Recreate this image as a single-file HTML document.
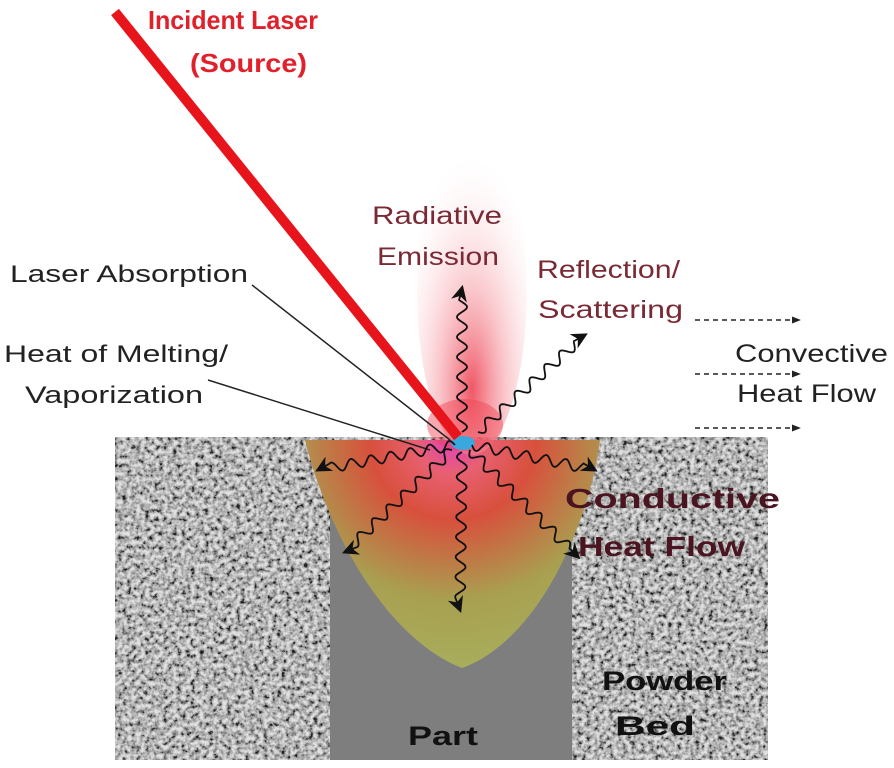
<!DOCTYPE html>
<html><head><meta charset="utf-8"><style>
body{margin:0;background:#fff;width:894px;height:768px;overflow:hidden}
svg{display:block}
text{font-family:"Liberation Sans","DejaVu Sans",sans-serif}
</style></head><body>
<svg id="s" width="894" height="768" viewBox="0 0 894 768">
<defs>
<filter id="n2" filterUnits="userSpaceOnUse" x="115" y="437" width="653" height="323">
<feTurbulence type="fractalNoise" baseFrequency="0.22" numOctaves="3" seed="5" result="t"/>
<feColorMatrix in="t" type="matrix" values="2.2 0 0 0 -0.55  2.2 0 0 0 -0.55  2.2 0 0 0 -0.55  0 0 0 0 1"/></filter>
<radialGradient id="plume" cx="0.5" cy="0.8" r="0.7">
<stop offset="0" stop-color="#ee4455" stop-opacity="0.9"/>
<stop offset="0.45" stop-color="#f6a0a8" stop-opacity="0.55"/>
<stop offset="1" stop-color="#fde5e8" stop-opacity="0"/>
</radialGradient>
<radialGradient id="pool" cx="0.5" cy="0" r="1" gradientTransform="translate(0.1 0) scale(0.8 1)">
<stop offset="0" stop-color="#e040c0"/>
<stop offset="0.15" stop-color="#e86070"/>
<stop offset="0.35" stop-color="#d8503c"/>
<stop offset="0.7" stop-color="#a8a050"/>
<stop offset="1" stop-color="#a8ae5c"/>
</radialGradient>
<marker id="ah" viewBox="0 0 10 10" refX="8" refY="5" markerWidth="9" markerHeight="9" orient="auto"><path d="M0,0 L10,5 L0,10 L3,5z" fill="#111"/></marker>
<marker id="ad" viewBox="0 0 10 10" refX="9" refY="5" markerWidth="6" markerHeight="6" orient="auto"><path d="M0,1 L10,5 L0,9z" fill="#222"/></marker>
</defs>
<rect x="115" y="437" width="653" height="323" fill="#8a8a8a"/>
<rect x="115" y="437" width="653" height="323" filter="url(#n2)" opacity="0.75"/>
<rect x="330" y="500" width="242" height="260" fill="#7e7e7e"/>
<path d="M305,440 L600,440 C590,520 540,640 462,668 C390,640 330,540 305,440Z" fill="url(#pool)"/>
<ellipse cx="472" cy="290" rx="55" ry="165" fill="url(#plume)"/>
<ellipse cx="465" cy="425" rx="38" ry="26" fill="#f04050" opacity="0.45"/>
<ellipse cx="463" cy="443" rx="12" ry="7" fill="#3aa8dc"/>
<line x1="115" y1="12" x2="458" y2="437" stroke="#e8141c" stroke-width="10"/>
<line x1="252" y1="285" x2="450" y2="440" stroke="#222" stroke-width="1.5"/>
<line x1="208" y1="380" x2="430" y2="450" stroke="#222" stroke-width="1.5"/>
<g id="w" fill="none" stroke="#111" stroke-width="1.8" marker-end="url(#ah)"></g>
<g stroke="#222" stroke-width="1.5" stroke-dasharray="5,4" marker-end="url(#ad)">
<line x1="695" y1="320" x2="800" y2="320"/>
<line x1="695" y1="374" x2="800" y2="374"/>
<line x1="695" y1="428" x2="800" y2="428"/>
</g>
<text x="148" y="29" font-size="26" font-weight="bold" fill="#e0202a" textLength="170" lengthAdjust="spacingAndGlyphs">Incident Laser</text>
<text x="190" y="72" font-size="26" font-weight="bold" fill="#e0202a" textLength="117" lengthAdjust="spacingAndGlyphs">(Source)</text>
<text x="372" y="224" font-size="25" fill="#7a2a34" textLength="130" lengthAdjust="spacingAndGlyphs">Radiative</text>
<text x="377" y="265" font-size="25" fill="#7a2a34" textLength="122" lengthAdjust="spacingAndGlyphs">Emission</text>
<text x="537" y="278" font-size="25" fill="#7a2a34" textLength="143" lengthAdjust="spacingAndGlyphs">Reflection/</text>
<text x="538" y="318" font-size="25" fill="#7a2a34" textLength="145" lengthAdjust="spacingAndGlyphs">Scattering</text>
<text x="10" y="282" font-size="24" fill="#222" textLength="238" lengthAdjust="spacingAndGlyphs">Laser Absorption</text>
<text x="4" y="362" font-size="24" fill="#222" textLength="224" lengthAdjust="spacingAndGlyphs">Heat of Melting/</text>
<text x="25" y="403" font-size="24" fill="#222" textLength="178" lengthAdjust="spacingAndGlyphs">Vaporization</text>
<text x="735" y="362" font-size="25" fill="#222" textLength="153" lengthAdjust="spacingAndGlyphs">Convective</text>
<text x="737" y="402" font-size="25" fill="#222" textLength="139" lengthAdjust="spacingAndGlyphs">Heat Flow</text>
<text x="565" y="508" font-size="28" font-weight="bold" fill="#4a1420" textLength="215" lengthAdjust="spacingAndGlyphs">Conductive</text>
<text x="578" y="556" font-size="28" font-weight="bold" fill="#4a1420" textLength="167" lengthAdjust="spacingAndGlyphs">Heat Flow</text>
<text x="602" y="690" font-size="27" font-weight="bold" fill="#111" textLength="125" lengthAdjust="spacingAndGlyphs">Powder</text>
<text x="615" y="735" font-size="27" font-weight="bold" fill="#111" textLength="80" lengthAdjust="spacingAndGlyphs">Bed</text>
<text x="408" y="745" font-size="27" font-weight="bold" fill="#111" textLength="70" lengthAdjust="spacingAndGlyphs">Part</text>
</svg>
<script>
var g=document.getElementById('w');
function wave(x0,y0,x1,y1,amp,wl){var dx=x1-x0,dy=y1-y0,L=Math.hypot(dx,dy),ux=dx/L,uy=dy/L,nx=-uy,ny=ux,d='M'+x0+','+y0;
for(var t=1;t<=L-12;t+=1){var a=amp*Math.sin(t/wl*2*Math.PI);d+=' L'+(x0+ux*t+nx*a).toFixed(1)+','+(y0+uy*t+ny*a).toFixed(1);}
d+=' L'+(x0+ux*L).toFixed(1)+','+(y0+uy*L).toFixed(1);
var p=document.createElementNS('http://www.w3.org/2000/svg','path');p.setAttribute('d',d);g.appendChild(p);}
wave(462,432,462,288,5,20);
wave(478,432,585,335,5,20);
wave(455,445,318,470,5,20);
wave(452,450,345,552,5,20);
wave(462,452,460,610,5,20);
wave(472,445,595,470,5,20);
wave(470,450,578,557,5,20);
</script>
</body></html>
